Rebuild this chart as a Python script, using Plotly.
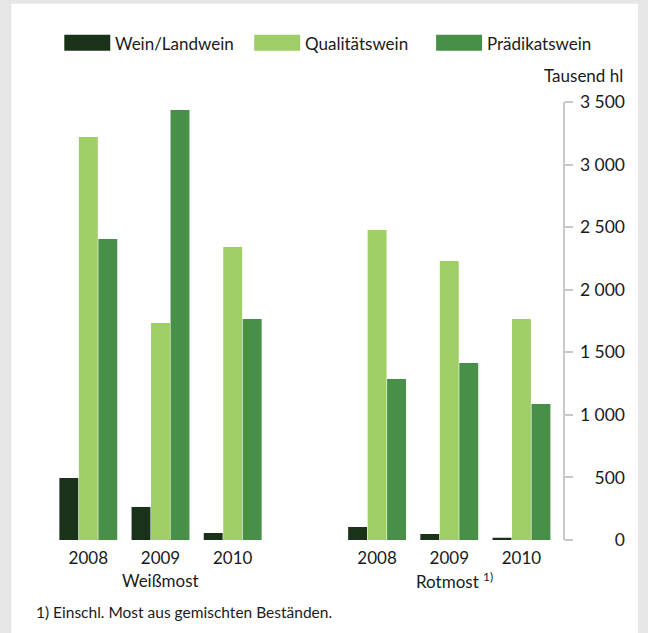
import plotly.graph_objects as go

# ---- data (Tausend hl) ----
groups = ["Weißmost", "Rotmost"]
group_labels = ["Weißmost", "Rotmost <sup>1)</sup>"]
years = ["2008", "2009", "2010"]
series_names = ["Wein/Landwein", "Qualitätswein", "Prädikatswein"]
wein_landwein = [495, 264, 56, 104, 48, 18]
qualitaetswein = [3220, 1734, 2341, 2477, 2229, 1766]
praedikatswein = [2405, 3436, 1766, 1287, 1414, 1087]
y_ticks = [0, 500, 1000, 1500, 2000, 2500, 3000, 3500]
y_ticktext = ["0", "500", "1 000", "1 500", "2 000", "2 500", "3 000", "3 500"]
unit_label = "Tausend hl"
footnote = "1) Einschl. Most aus gemischten Beständen."

colors = ["#1b321a", "#9fce67", "#488f47"]
FONT = "Lato, 'Noto Sans', sans-serif"
TXT = "#1a1a1a"

# x positions: groups separated by an empty slot
x_pos = [g * (len(years) + 1) + i for g in range(len(groups)) for i in range(len(years))]
x_text = [y for _ in groups for y in years]

W, H = 648, 633
ml, mr, mt, mb = 44.7, 23, 102.3, 93
pw = W - ml - mr
ph = H - mt - mb
x_dom_end = (563.3 - ml) / pw


def fx(px):
    return (px - ml) / pw


def fy(py):
    return (H - mb - py) / ph


fig = go.Figure()
for name, vals, col in zip(series_names, [wein_landwein, qualitaetswein, praedikatswein], colors):
    fig.add_trace(go.Bar(x=x_pos, y=vals, name=name, marker_color=col,
                         marker_line_width=0, showlegend=False, hoverinfo="y"))
# empty helper trace so the label axis (y2) is drawn
fig.add_trace(go.Scatter(x=[], y=[], yaxis="y2", showlegend=False, hoverinfo="skip"))

shapes = []
annotations = []
# white panel over gray page background
shapes.append(dict(type="rect", xref="paper", yref="paper", x0=fx(11), x1=fx(638),
                   y0=fy(700), y1=fy(4), fillcolor="white", line_width=0, layer="below"))

# custom legend
leg_x = [64, 254, 436]
for lx, name, col in zip(leg_x, series_names, colors):
    shapes.append(dict(type="rect", xref="paper", yref="paper", x0=fx(lx), x1=fx(lx + 46),
                       y0=fy(51), y1=fy(35), fillcolor=col, line_width=0))
    annotations.append(dict(text=name, xref="paper", yref="paper", x=fx(lx + 49), y=fy(43.5),
                            xanchor="left", yanchor="middle", showarrow=False,
                            font=dict(size=17, color=TXT, family=FONT)))

# unit label
annotations.append(dict(text=unit_label, xref="paper", yref="paper", x=fx(625), y=fy(76),
                        xanchor="right", yanchor="middle", showarrow=False,
                        font=dict(size=17, color=TXT, family=FONT)))

# group labels
for g, lab in enumerate(group_labels):
    annotations.append(dict(text=lab, xref="x", yref="paper",
                            x=g * (len(years) + 1) + (len(years) - 1) / 2, y=fy(580),
                            xanchor="center", yanchor="middle", showarrow=False,
                            xshift=5 if g == 1 else 0,
                            font=dict(size=17, color=TXT, family=FONT)))

# footnote
annotations.append(dict(text=footnote, xref="paper", yref="paper", x=fx(34), y=fy(612),
                        xanchor="left", yanchor="middle", showarrow=False,
                        font=dict(size=15.5, color=TXT, family=FONT)))

fig.update_layout(
    width=W, height=H,
    margin=dict(l=ml, r=mr, t=mt, b=mb, pad=0),
    paper_bgcolor="#e6e6e6", plot_bgcolor="rgba(0,0,0,0)",
    barmode="group", bargap=0.19, bargroupgap=0.03,
    font=dict(family=FONT, size=17, color=TXT),
    showlegend=False,
    shapes=shapes, annotations=annotations,
    xaxis=dict(domain=[0, x_dom_end], range=[-0.6, 6.58], tickvals=x_pos, ticktext=x_text,
               ticks="", ticklabelstandoff=6, showline=False, showgrid=False, zeroline=False,
               tickfont=dict(size=17, color=TXT, family=FONT)),
    yaxis=dict(side="right", anchor="x", range=[0, 3500], tickvals=y_ticks,
               showticklabels=False, ticks="outside", ticklen=8, tickwidth=1.5,
               tickcolor="#c8c8c8", showline=True, linecolor="#c8c8c8", linewidth=1.5,
               showgrid=False, zeroline=False),
    yaxis2=dict(overlaying="y", side="left", anchor="free", position=1, range=[0, 3500],
                tickvals=y_ticks, ticktext=y_ticktext, ticks="", showline=False,
                showgrid=False, zeroline=False,
                tickfont=dict(size=17.5, color=TXT, family=FONT)),
)

fig.write_html("out.html", config={"displayModeBar": False},
               post_script="document.body.style.margin='0';")
